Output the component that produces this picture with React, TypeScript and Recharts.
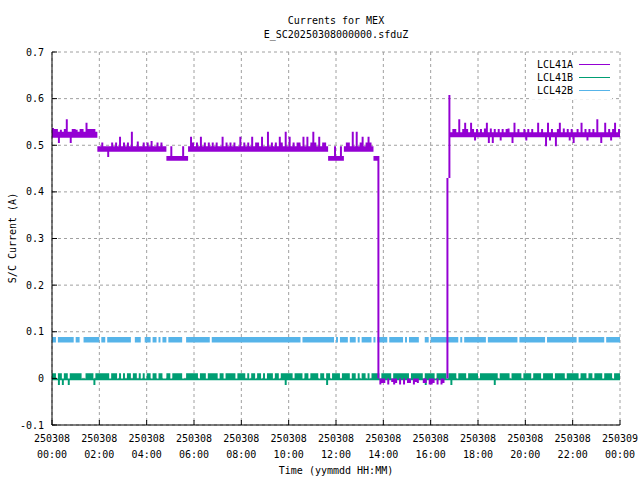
import React from "react";
import { ComposedChart, Area, XAxis, YAxis, CartesianGrid, Legend } from "recharts";

const FONT = '"DejaVu Sans Mono", "Liberation Mono", monospace';

// x axis: minutes after 250308 00:00, a tick every two hours
const xTicks = [0, 120, 240, 360, 480, 600, 720, 840, 960, 1080, 1200, 1320, 1440];
const xTickDates = [
  "250308", "250308", "250308", "250308", "250308", "250308", "250308",
  "250308", "250308", "250308", "250308", "250308", "250309",
];
const xTickTimes = [
  "00:00", "02:00", "04:00", "06:00", "08:00", "10:00", "12:00",
  "14:00", "16:00", "18:00", "20:00", "22:00", "00:00",
];

const yTicks = [-0.1, 0, 0.1, 0.2, 0.3, 0.4, 0.5, 0.6, 0.7];
const yTickLabels = ["-0.1", "0", "0.1", "0.2", "0.3", "0.4", "0.5", "0.6", "0.7"];

const seriesNames = ["LCL41A", "LCL41B", "LCL42B"];
const seriesColors = ["#9400d3", "#009e73", "#56b4e9"];

// sampling of the table, minutes
const STEP = 5;

// LCL41A: the trace toggles inside a band; band changes at these minutes
const lcl41aStart = [0, 115, 290, 345, 700, 740, 815, 825, 830, 1000, 1005, 1010];
const lcl41aLow = [0.516, 0.486, 0.467, 0.486, 0.467, 0.486, 0.467, 0, 0, 0, 0.43, 0.517];
const lcl41aHigh = [0.529, 0.498, 0.477, 0.498, 0.477, 0.498, 0.477, 0.477, 0, 0.43, 0.608, 0.528];
// [minute, value] single excursions out of the band
const lcl41aSpikes = [
  [0, 0.537], [5, 0.535], [10, 0.535], [15, 0.505], [20, 0.533], [30, 0.535], [35, 0.556],
  [45, 0.505], [50, 0.535], [55, 0.535], [60, 0.533], [70, 0.535], [75, 0.535], [85, 0.548],
  [90, 0.535], [95, 0.535], [100, 0.535], [105, 0.535],
  [125, 0.506], [140, 0.475], [150, 0.506], [160, 0.506], [170, 0.518], [180, 0.506],
  [190, 0.506], [200, 0.529], [215, 0.508], [230, 0.506], [240, 0.506], [250, 0.509],
  [265, 0.506], [275, 0.506],
  [300, 0.498], [330, 0.498],
  [350, 0.518], [355, 0.506], [365, 0.506], [375, 0.518], [385, 0.506], [395, 0.506],
  [405, 0.506], [415, 0.506], [430, 0.518], [440, 0.506], [450, 0.506], [460, 0.506],
  [475, 0.518], [485, 0.506], [495, 0.506], [505, 0.518], [515, 0.506], [520, 0.506],
  [530, 0.518], [545, 0.529], [555, 0.506], [565, 0.506], [575, 0.518], [580, 0.506],
  [590, 0.529], [600, 0.518], [610, 0.506], [620, 0.506], [625, 0.506], [635, 0.518],
  [645, 0.518], [655, 0.506], [660, 0.529], [665, 0.506], [675, 0.518], [685, 0.506],
  [690, 0.506],
  [715, 0.498], [730, 0.498],
  [745, 0.506], [750, 0.506], [760, 0.529], [770, 0.529], [780, 0.506], [785, 0.518],
  [795, 0.506], [800, 0.518], [805, 0.506],
  [830, -0.013], [835, -0.010], [840, -0.010], [850, -0.013], [860, -0.008], [865, -0.013],
  [870, -0.010], [880, -0.013], [890, -0.013], [900, -0.010], [905, -0.010], [915, -0.013],
  [920, -0.008], [925, -0.010], [940, -0.010], [945, -0.010], [955, -0.013], [960, -0.013],
  [965, -0.010], [975, -0.013], [985, -0.013], [990, -0.010],
  [1015, 0.535], [1020, 0.535], [1030, 0.556], [1040, 0.535], [1045, 0.548], [1050, 0.535],
  [1060, 0.548], [1065, 0.535], [1070, 0.510], [1075, 0.535], [1085, 0.535], [1095, 0.536],
  [1100, 0.548], [1105, 0.505], [1110, 0.536], [1115, 0.505], [1120, 0.535], [1130, 0.535],
  [1135, 0.510], [1140, 0.535], [1150, 0.535], [1155, 0.536], [1165, 0.505], [1170, 0.548],
  [1180, 0.535], [1195, 0.535], [1200, 0.510], [1205, 0.535], [1215, 0.535], [1230, 0.548],
  [1240, 0.535], [1250, 0.498], [1255, 0.548], [1260, 0.510], [1265, 0.535], [1275, 0.498],
  [1280, 0.535], [1285, 0.548], [1295, 0.536], [1305, 0.535], [1310, 0.510], [1315, 0.535],
  [1320, 0.505], [1330, 0.535], [1340, 0.548], [1350, 0.535], [1355, 0.510], [1360, 0.535],
  [1370, 0.535], [1380, 0.556], [1390, 0.505], [1400, 0.548], [1410, 0.535], [1415, 0.510],
  [1420, 0.535], [1425, 0.548], [1435, 0.535],
];
const lcl41aFlats: number[][] = [];

// LCL41B
const lcl41bStart = [0];
const lcl41bLow = [-0.004];
const lcl41bHigh = [0.011];
const lcl41bSpikes = [
  [15, -0.014], [25, -0.014], [40, -0.014], [105, -0.014], [590, -0.014],
  [695, -0.014], [945, -0.014], [1010, -0.014], [1120, -0.014],
];
// minutes where the trace sat on the lower level only
const lcl41bFlatAt = [
  10, 25, 40, 75, 80, 105, 145, 165, 175, 185, 200, 215, 225, 235, 250, 265, 280, 285, 300, 330,
  335, 370, 390, 420, 435, 465, 490, 500, 515, 530, 540, 560, 575, 610, 635, 650, 675, 690, 705,
  730, 755, 770, 780, 795, 805, 830, 860, 905, 940, 970, 1000, 1025, 1050, 1080, 1130, 1160, 1190,
  1215, 1240, 1270, 1300, 1335, 1355, 1370, 1395, 1420,
];

// LCL42B
const lcl42bStart = [0];
const lcl42bLow = [0.077];
const lcl42bHigh = [0.089];
const lcl42bSpikes: number[][] = [];
const lcl42bFlatAt = [
  10, 55, 70, 75, 120, 135, 200, 205, 225, 230, 250, 265, 275, 290, 330, 335, 400, 630, 715, 725,
  750, 770, 780, 810, 820, 850, 890, 900, 930, 935, 940, 955, 1030, 1040, 1100, 1180, 1250, 1330, 1400,
];

function bandAt(starts: number[], lows: number[], highs: number[], t: number) {
  let k = 0;
  for (let i = 0; i < starts.length; i++) if (starts[i] <= t) k = i;
  return [lows[k], highs[k]];
}

function range(
  starts: number[], lows: number[], highs: number[],
  spikes: number[][], flats: number[][], t: number
) {
  let [lo, hi] = bandAt(starts, lows, highs, t);
  const s = spikes.find((p) => p[0] === t);
  if (s) {
    lo = Math.min(lo, s[1]);
    hi = Math.max(hi, s[1]);
  }
  const f = flats.find((p) => p[0] === t);
  if (f) {
    lo = Math.min(lo, f[1]);
    hi = f[1];
  }
  return [lo, hi];
}

const bFlats = lcl41bFlatAt.map((t) => [t, 0]);
const cFlats = lcl42bFlatAt.map((t) => [t, lcl42bLow[0]]);

const rows: { t: number; a: number[]; b: number[]; c: number[] }[] = [];
for (let t = 0; t <= 1440; t += STEP) {
  rows.push({
    t,
    a: range(lcl41aStart, lcl41aLow, lcl41aHigh, lcl41aSpikes, lcl41aFlats, t),
    b: range(lcl41bStart, lcl41bLow, lcl41bHigh, lcl41bSpikes, bFlats, t),
    c: range(lcl42bStart, lcl42bLow, lcl42bHigh, lcl42bSpikes, cFlats, t),
  });
}

function TimeTick(props: any) {
  const { x, y, payload } = props;
  const i = xTicks.indexOf(payload.value);
  return (
    <g>
      <text x={x} y={y + 17} textAnchor="middle" fontFamily={FONT} fontSize={10} fill="#000">
        {xTickDates[i]}
      </text>
      <text x={x} y={y + 33} textAnchor="middle" fontFamily={FONT} fontSize={10} fill="#000">
        {xTickTimes[i]}
      </text>
    </g>
  );
}

const renderLegend = () => (
  <div style={{ background: "#fff", padding: "2px 2px 2px 0", fontFamily: FONT, fontSize: 10 }}>
    {seriesNames.map((n, i) => (
      <div
        key={n}
        style={{ display: "flex", alignItems: "center", justifyContent: "flex-end", height: 13 }}
      >
        <span>{n}</span>
        <span
          style={{
            display: "inline-block",
            width: 31,
            height: 1.5,
            background: seriesColors[i],
            marginLeft: 6,
          }}
        />
      </div>
    ))}
  </div>
);

export default function App() {
  const axisStroke = { stroke: "#000" };
  return (
    <div style={{ position: "absolute", left: 0, top: 0, width: 640, height: 480, background: "#fff" }}>
      <ComposedChart
        width={640}
        height={480}
        data={rows}
        margin={{ top: 52, right: 20, bottom: 0, left: 0 }}
      >
        <CartesianGrid xAxisId="b" yAxisId="l" stroke="#a0a0a0" strokeDasharray="3 3" />
        <XAxis
          xAxisId="b"
          dataKey="t"
          type="number"
          domain={[0, 1440]}
          ticks={xTicks}
          interval={0}
          height={55}
          tickSize={-5}
          tickMargin={5}
          axisLine={axisStroke}
          tickLine={axisStroke}
          tick={(p: any) => <TimeTick {...p} />}
        />
        <XAxis
          xAxisId="t"
          orientation="top"
          dataKey="t"
          type="number"
          domain={[0, 1440]}
          ticks={xTicks}
          interval={0}
          height={0}
          tickSize={-5}
          axisLine={axisStroke}
          tickLine={axisStroke}
          tick={false}
        />
        <YAxis
          yAxisId="l"
          type="number"
          domain={[-0.1, 0.7]}
          ticks={yTicks}
          interval={0}
          allowDataOverflow
          width={52}
          tickSize={-5}
          tickMargin={13}
          axisLine={axisStroke}
          tickLine={axisStroke}
          tick={{ fill: "#000", fontSize: 10, fontFamily: FONT }}
          tickFormatter={(v: number) =>
            yTickLabels[yTicks.findIndex((y) => Math.abs(y - v) < 1e-9)]
          }
        />
        <YAxis
          yAxisId="r"
          orientation="right"
          type="number"
          domain={[-0.1, 0.7]}
          ticks={yTicks}
          interval={0}
          allowDataOverflow
          width={0}
          tickSize={-5}
          axisLine={axisStroke}
          tickLine={axisStroke}
          tick={false}
        />
        <Area
          xAxisId="b"
          yAxisId="l"
          dataKey="b"
          type="stepAfter"
          stroke="none"
          fill={seriesColors[1]}
          fillOpacity={1}
          dot={false}
          activeDot={false}
          isAnimationActive={false}
        />
        <Area
          xAxisId="b"
          yAxisId="l"
          dataKey="c"
          type="stepAfter"
          stroke="none"
          fill={seriesColors[2]}
          fillOpacity={1}
          dot={false}
          activeDot={false}
          isAnimationActive={false}
        />
        <Area
          xAxisId="b"
          yAxisId="l"
          dataKey="a"
          type="stepAfter"
          stroke="none"
          fill={seriesColors[0]}
          fillOpacity={1}
          dot={false}
          activeDot={false}
          isAnimationActive={false}
        />
        <Legend
          layout="vertical"
          align="center"
          verticalAlign="middle"
          content={renderLegend}
          wrapperStyle={{ top: 56, left: 530, width: 82, height: 43 }}
        />
      </ComposedChart>
      <svg
        width={640}
        height={480}
        style={{ position: "absolute", left: 0, top: 0, pointerEvents: "none" }}
        fontFamily={FONT}
        fontSize={10}
      >
        <text x={336} y={24} textAnchor="middle" fill="#000">Currents for MEX</text>
        <text x={336} y={38} textAnchor="middle" fill="#000">E_SC20250308000000.sfduZ</text>
        <text x={336} y={474} textAnchor="middle" fill="#000">Time (yymmdd HH:MM)</text>
        <text x={16} y={238} textAnchor="middle" fill="#000" transform="rotate(-90 16 238)">
          S/C Current (A)
        </text>
      </svg>
    </div>
  );
}
